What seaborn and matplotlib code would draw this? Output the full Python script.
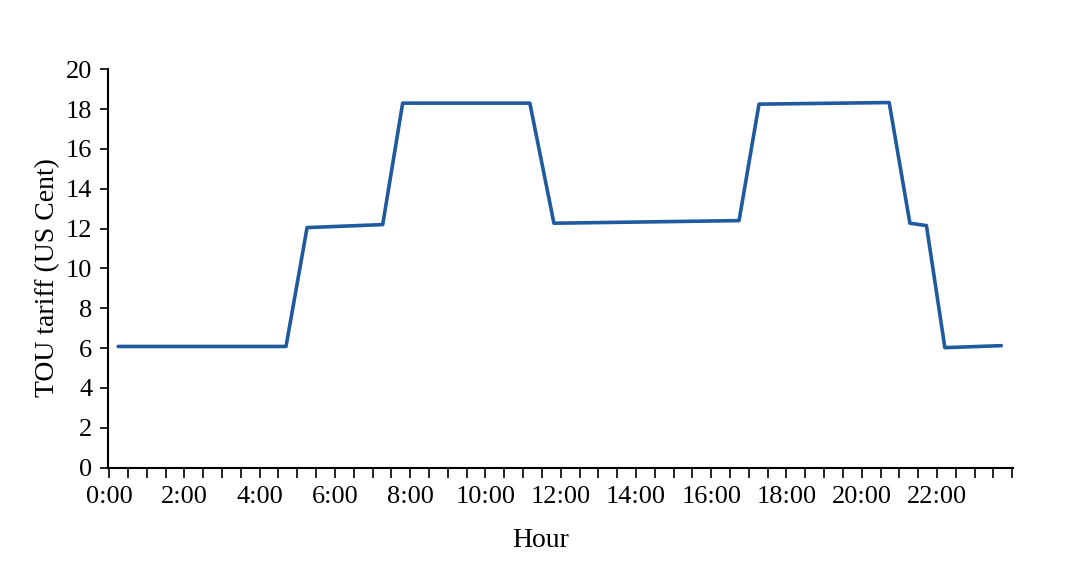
import pandas as pd
import matplotlib.pyplot as plt
import seaborn as sns
from matplotlib.ticker import MultipleLocator, FixedLocator

# Breakpoints of the TOU tariff curve (hour of day, US cent)
hours = [0.24, 4.70, 5.26, 7.27, 7.80, 11.18, 11.82, 16.74, 17.27, 20.73, 21.28, 21.72, 22.21, 23.71]
tariff = [6.08, 6.08, 12.05, 12.20, 18.30, 18.30, 12.27, 12.40, 18.25, 18.33, 12.27, 12.15, 6.02, 6.12]

label_hours = list(range(0, 24, 2))
label_text = [f"{h}:00" for h in label_hours]

df = pd.DataFrame({'Hour': hours, 'Tariff': tariff})

sns.set_style("ticks")
plt.rcParams['font.family'] = ['Liberation Serif', 'DejaVu Serif']

fig = plt.figure(figsize=(10.69, 5.68), dpi=100)
ax = fig.add_axes([0.1007, 0.1769, 0.8469, 0.7011])

sns.lineplot(data=df, x='Hour', y='Tariff', ax=ax, color='#1f5a9e', linewidth=2.6, sort=False)

ax.set_xlim(-0.04, 24.02)
ax.set_ylim(0, 20)
ax.yaxis.set_major_locator(MultipleLocator(2))
ax.xaxis.set_major_locator(FixedLocator(label_hours))
ax.set_xticklabels(label_text)
ax.xaxis.set_minor_locator(MultipleLocator(0.5))

ax.tick_params(axis='y', labelsize=19, length=6, width=1.2, pad=5, colors='black')
ax.tick_params(axis='x', which='major', labelsize=19, length=7, width=1.2, pad=6, colors='black')
ax.tick_params(axis='x', which='minor', length=7, width=1.2, colors='black')

sns.despine(ax=ax)
for s in ['left', 'bottom']:
    ax.spines[s].set_linewidth(1.5)
    ax.spines[s].set_color('black')

ax.set_xlabel('Hour', fontsize=20, color='black')
ax.set_ylabel('TOU tariff (US Cent)', fontsize=20, color='black')
ax.xaxis.set_label_coords(0.4786, -0.152)
ax.yaxis.set_label_coords(-0.053, 0.476)

fig.savefig('out.png', dpi=100)
